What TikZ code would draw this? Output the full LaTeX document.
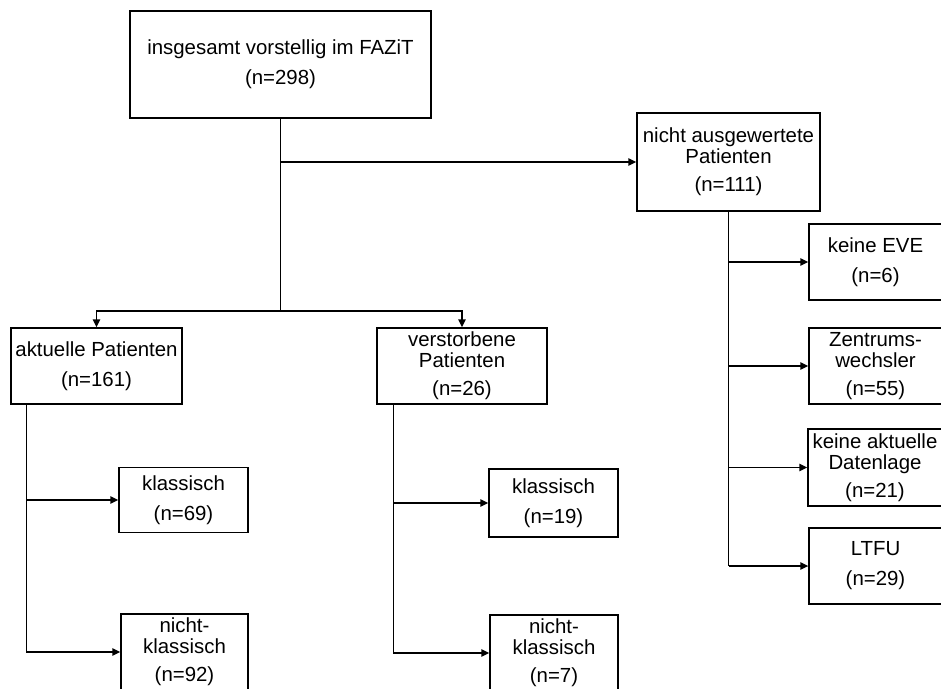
\documentclass[tikz,border=0pt]{standalone}
\usepackage{fontspec}
\setmainfont{Liberation Sans}
\usetikzlibrary{arrows.meta}

\begin{document}
\begin{tikzpicture}[
    x=1pt, y=-1pt,
    box/.style={draw, line width=1.4pt, inner sep=0pt, align=center, font=\fontsize{20.4pt}{21pt}\selectfont},
    conn/.style={line width=1.4pt},
    arr/.style={conn, -{Triangle[length=8pt, width=7.5pt]}},
]
\useasboundingbox (0,0) rectangle (941,688);
\clip (0,0) rectangle (941,688);

\node[box, minimum width=301pt, minimum height=107pt] (top) at (280.5,64.5) {insgesamt vorstellig im FAZiT\\[9pt](n=298)};
\node[box, minimum width=183pt, minimum height=98pt] (nicht) at (728.5,162) {nicht ausgewertete\\Patienten\\[7pt](n=111)};
\node[box, minimum width=171pt, minimum height=76pt] (aktuell) at (96.5,366) {aktuelle Patienten\\[9pt](n=161)};
\node[box, minimum width=170pt, minimum height=76pt] (verst) at (462,366) {verstorbene\\Patienten\\[7pt](n=26)};

\node[box, minimum width=129pt, minimum height=65pt] (aklass) at (183.5,500) {klassisch\\[9pt](n=69)};
\node[box, minimum width=127pt, minimum height=76pt] (anicht) at (184.5,652) {nicht-\\klassisch\\[7pt](n=92)};
\node[box, minimum width=129pt, minimum height=68pt] (vklass) at (553.5,503) {klassisch\\[9pt](n=19)};
\node[box, minimum width=128pt, minimum height=76pt] (vnicht) at (554,653) {nicht-\\klassisch\\[7pt](n=7)};

\node[box, minimum width=133pt, minimum height=76pt] (eve) at (875.5,262) {keine EVE\\[9pt](n=6)};
\node[box, minimum width=133pt, minimum height=76pt] (zentrum) at (875.5,366) {Zentrums-\\wechsler\\[7pt](n=55)};
\node[box, minimum width=134pt, minimum height=77pt] (daten) at (875,467.5) {keine aktuelle\\Datenlage\\[7pt](n=21)};
\node[box, minimum width=133pt, minimum height=76pt] (ltfu) at (875.5,566) {LTFU\\[9pt](n=29)};

\coordinate (split) at (top.south |- 0,311);

% main trunk
\draw[conn] (top.south) -- (split);
\draw[arr] (split) -| (aktuell.north);
\draw[arr] (split) -| (verst.north);
\draw[arr] (top.south |- nicht.west) -- (nicht.west);

% not evaluated
\draw[conn] (nicht.south) -- (nicht.south |- ltfu.west);
\foreach \n in {eve,zentrum,daten,ltfu}
  \draw[arr] (nicht.south |- \n.west) -- (\n.west);

% current / deceased
\draw[arr] ([xshift=16pt]aktuell.south west) |- (aklass.west);
\draw[arr] ([xshift=16pt]aktuell.south west) |- (anicht.west);
\draw[arr] ([xshift=17pt]verst.south west) |- (vklass.west);
\draw[arr] ([xshift=17pt]verst.south west) |- (vnicht.west);
\end{tikzpicture}
\end{document}
